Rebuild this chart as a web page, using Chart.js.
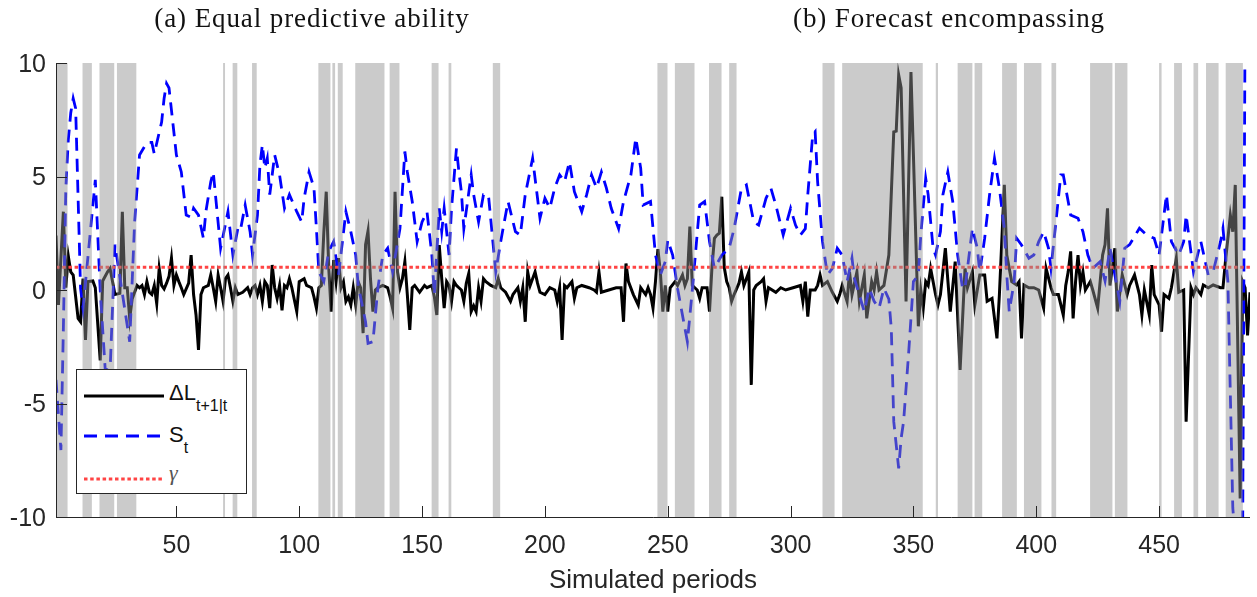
<!DOCTYPE html>
<html>
<head>
<meta charset="utf-8">
<script src="https://cdn.jsdelivr.net/npm/chart.js@4.4.1/dist/chart.umd.min.js"></script>
<style>
html,body{margin:0;padding:0;background:#fff;}
#wrap{position:relative;width:1257px;height:597px;overflow:hidden;}
#c{position:absolute;left:0;top:0;}
.ttl{position:absolute;top:5px;font-family:'Liberation Serif','DejaVu Serif',serif;font-size:27px;line-height:27px;letter-spacing:0.9px;color:#111;white-space:nowrap;transform:translateX(-50%);}
#legend{position:absolute;left:76px;top:369px;width:169px;height:123px;border:1px solid #262626;background:#fff;font-family:'Liberation Sans',Arial,sans-serif;color:#111;}
#legend svg{position:absolute;left:7px;}
#legend .lt{position:absolute;left:92px;font-size:22px;line-height:22px;white-space:nowrap;}
#legend .sb{font-size:16px;position:relative;top:11px;}
#legend .gm{font-family:'Liberation Serif','DejaVu Serif',serif;font-style:italic;color:#555;font-size:22px;}
</style>
</head>
<body>
<div id="wrap">
<canvas id="c" width="1257" height="597"></canvas>
<div class="ttl" style="left:312px">(a) Equal predictive ability</div>
<div class="ttl" style="left:949px">(b) Forecast encompassing</div>
<div id="legend">
  <svg style="top:23px" width="80" height="6"><line x1="0" y1="3" x2="80" y2="3" stroke="#000" stroke-width="3"/></svg>
  <div class="lt" style="top:12px">&Delta;L<span class="sb">t+1|t</span></div>
  <svg style="top:63px" width="80" height="6"><line x1="0" y1="3" x2="80" y2="3" stroke="#0000ff" stroke-width="3" stroke-dasharray="13 8"/></svg>
  <div class="lt" style="top:54px">S<span class="sb">t</span></div>
  <svg style="top:106px" width="80" height="6"><line x1="0" y1="3" x2="80" y2="3" stroke="#ff4444" stroke-width="3" stroke-dasharray="3.5 2.7"/></svg>
  <div class="lt gm" style="top:92px">&gamma;</div>
</div>
</div>
<script>
// ---- data ----
const dlPeriods = [1,2,4,5,6,7,8,10,11,12,13,14,16,17,19,20,22,23,25,27,28,29,30,31,32,34,35,36,37,38,39,40,41,42,43,44,45,46,47,48,49,50,51,52,53,55,56,57,58,59,60,61,63,64,65,66,67,68,69,70,71,72,73,74,75,77,79,80,81,82,83,84,85,86,87,88,89,90,91,92,93,94,95,96,97,99,100,102,103,105,106,107,108,109,110,111,112,113,114,115,116,117,118,119,120,121,122,123,124,125,126,127,128,129,130,131,132,134,136,137,138,139,140,141,142,143,144,145,146,147,149,151,152,154,155,156,157,158,159,160,161,162,163,164,165,166,167,168,169,170,171,172,173,174,175,176,178,180,181,182,184,186,187,189,190,191,192,193,194,196,197,198,200,202,204,205,206,207,208,209,211,212,213,215,218,220,221,222,223,226,229,231,232,233,234,236,238,239,241,242,243,244,245,246,247,248,249,250,251,253,254,256,257,258,259,260,261,262,263,264,266,267,268,269,270,271,272,273,274,275,276,277,279,280,281,282,283,284,285,286,288,289,290,291,294,296,298,301,304,305,306,307,308,310,311,312,313,315,317,319,320,321,323,324,325,327,328,330,331,333,334,335,336,338,340,342,343,344,345,347,349,350,352,353,354,355,356,357,359,360,361,363,365,367,369,371,372,374,375,377,379,380,382,384,385,387,388,390,392,393,394,395,397,399,401,403,404,406,407,409,411,412,413,414,415,416,417,418,419,420,422,423,425,427,428,429,430,432,433,435,437,438,440,442,443,444,446,447,448,450,451,452,454,455,457,458,460,461,463,464,465,467,468,470,472,475,476,477,479,480,481,483,484,485,486,487];
const dlValues = [2.4,-0.66,3.45,0.1,1.5,0.8,0.66,-1.25,-1.4,0.5,-2.2,0.37,0.4,0.1,-3.1,0.4,0.8,0.95,-0.2,-0.15,3.45,0.1,0.1,-1.25,-0.4,0.2,0.1,0.2,-0.2,0.37,-0.1,-0.2,0.2,-0.6,0.95,0.2,0.05,0.3,0.6,1.4,0.2,0.66,0.37,0.1,-0.2,0.3,1.54,-0.2,-1.1,-2.64,-0.2,0.1,0.2,0.66,0.1,-0.5,0.66,0.1,-0.5,0.5,0.66,0.1,-0.5,0.1,-0.2,-0.1,0.1,-0.2,0.1,0.2,-0.2,0.2,-0.5,0.37,0.2,-0.8,1.1,0.1,-0.37,0.2,-0.9,0.2,0.1,0.5,0.1,-0.95,0.37,0.5,0.2,0.1,-0.3,-0.8,0.1,0.2,2.5,4.33,1.0,-0.95,1.32,0.37,1.4,0.1,0.37,-0.5,-0.3,-0.66,0.1,-0.66,0.37,0.1,-1.9,2.0,2.6,0.5,-0.95,0.0,0.1,0.2,0.1,-0.3,-0.8,4.33,0.8,0.1,0.5,1.25,-0.2,-1.76,0.1,0.2,-0.1,0.2,0.1,0.2,-0.3,-1.1,1.98,0.5,-0.8,0.37,0.2,-0.5,0.37,0.2,0.1,0.0,-0.5,0.3,0.73,-0.95,-0.7,-0.95,0.1,-0.5,0.5,0.37,0.2,0.1,0.5,0.1,-0.1,-0.5,-0.2,0.1,-0.5,0.1,-1.4,0.8,0.2,0.8,0.3,-0.1,-0.2,0.1,0.0,-0.5,0.1,-2.2,0.2,0.1,0.37,-0.37,0.1,0.2,0.1,0.0,-0.1,0.8,-0.1,0.0,0.1,0.1,-1.4,1.17,0.37,-0.2,-0.66,0.1,-0.2,0.1,-0.2,-0.8,0.37,1.8,0.8,-0.95,0.2,-0.95,0.1,0.37,0.2,0.66,0.2,0.5,2.79,0.2,0.1,0.0,-0.37,0.1,0.1,-0.95,1.0,2.28,2.42,2.5,4.11,1.0,0.37,0.1,-0.5,-0.2,0.3,0.8,0.2,0.5,0.8,-4.18,0.0,0.2,0.37,0.5,-0.5,0.1,-0.1,0.1,0.0,0.1,0.2,-0.5,0.37,-1.17,0.0,0.0,0.2,0.66,0.2,0.37,-0.1,-0.5,-0.2,0.2,-0.5,0.8,-0.2,0.8,-0.5,0.66,-1.25,0.37,0.0,0.8,0.0,0.2,1.54,6.97,7.0,9.47,8.9,-0.5,9.6,5.95,-1.6,0.0,-0.8,0.37,0.2,0.95,-0.2,-0.66,-0.2,1.84,-0.95,1.25,-3.52,0.95,0.1,0.8,-0.66,0.66,0.66,-0.5,-0.37,-2.13,-0.2,4.63,1.54,0.37,0.22,0.37,-2.13,0.22,0.1,0.1,0.0,-0.8,0.95,0.1,-0.2,-0.2,-1.1,0.2,0.8,1.7,-1.25,0.37,1.54,0.2,0.8,0.0,0.37,0.0,-0.8,1.54,2.0,3.6,0.2,1.84,-0.95,0.66,-0.2,0.2,0.66,-0.2,-1.1,0.0,-1.1,1.1,-0.2,-0.66,-1.84,-0.2,-0.37,0.1,1.4,-0.1,0.0,-5.8,0.1,-0.2,0.1,-0.2,0.22,0.1,0.22,0.1,0.1,1.25,3.3,2.57,4.63,-9.18,0.37,0.1,-2.0,-0.1];

const stPeriods = [1,3,4,5,6,7,8,9,11,12,17,19,21,23,25,31,33,35,38,40,41,44,45,46,47,50,52,54,56,57,59,61,62,64,65,68,71,73,75,76,78,80,81,83,84,85,86,87,88,90,92,94,96,99,101,102,104,106,107,108,110,112,114,116,119,121,123,124,127,128,130,132,134,136,138,141,143,144,146,148,150,152,154,155,157,158,159,161,162,164,165,166,167,170,171,173,175,177,180,182,185,188,190,192,195,197,198,200,202,204,206,208,210,212,215,217,219,221,223,225,227,230,232,235,237,239,240,243,245,247,249,250,252,254,258,260,263,265,267,269,272,275,277,280,282,285,287,290,292,294,297,300,302,304,306,307,309,310,311,313,315,317,319,321,323,325,326,330,332,334,336,338,340,341,342,344,345,346,348,350,352,353,355,356,358,359,361,362,364,366,368,370,371,374,376,377,379,381,383,385,387,388,389,391,392,394,397,399,401,403,405,406,408,410,411,414,417,419,421,423,426,428,430,434,436,438,442,445,448,450,453,455,458,460,461,464,467,470,472,475,476,478,480,481,484,485];
const stValues = [-3.96,-7.05,-1.7,4.5,6.6,7.8,8.44,8.0,0.07,-0.8,4.85,0.0,-3.45,-3.6,2.0,-2.28,3.0,5.95,6.5,6.5,6.0,7.4,8.44,9.1,8.9,5.95,5.2,3.3,3.2,3.6,3.3,2.28,3.45,4.77,5.2,1.84,3.45,1.54,2.7,2.6,3.74,2.57,1.54,3.3,5.5,6.4,5.36,5.8,4.2,5.95,5.07,3.6,4.2,3.45,3.0,4.04,5.2,4.5,2.7,0.8,0.37,1.7,2.13,0.66,3.45,2.57,1.54,0.22,-1.4,-2.35,-2.28,0.07,1.54,1.84,0.8,2.7,6.1,5.2,3.9,2.13,3.0,3.45,1.54,-0.2,3.6,2.57,3.6,1.54,3.6,6.24,5.2,4.33,2.7,5.07,4.2,3.0,4.2,4.2,0.8,2.13,3.9,2.57,2.42,4.2,5.8,4.04,3.16,4.04,3.6,4.5,5.07,4.77,5.65,4.33,3.45,4.2,5.07,4.5,5.2,4.5,3.6,2.7,3.9,5.07,6.7,5.36,3.74,3.9,1.54,0.66,1.25,2.2,1.54,0.07,-2.28,0.0,3.74,3.9,2.13,0.95,1.54,1.84,2.7,4.48,4.63,3.0,2.86,4.04,4.48,3.74,2.42,3.6,2.86,2.42,2.7,4.2,6.83,6.97,4.77,2.13,0.66,0.95,1.84,1.54,0.37,1.4,0.5,-0.95,0.07,-0.5,-0.8,0.07,-0.4,-1.7,-5.8,-7.86,-6.53,-5.8,-2.86,0.37,0.66,2.42,4.92,4.2,1.84,1.54,2.57,4.2,5.2,3.9,1.54,0.07,0.07,2.72,1.84,0.8,2.28,4.2,5.8,4.48,2.72,0.66,-0.95,0.37,2.28,1.98,1.4,1.54,2.13,2.57,1.84,0.95,3.0,5.07,5.07,3.3,3.16,2.57,1.54,0.95,1.25,0.4,1.84,-0.5,1.84,2.0,2.72,2.42,2.28,1.54,4.2,2.13,1.54,2.13,3.3,0.8,2.13,0.66,0.8,2.13,2.72,0.37,-9.6,-11,-11,12];

const gammaPeriods = [1, 487];
const gammaValues = [1, 1];

const bandStarts = [1,11.8,18.7,25.8,69.0,72.9,80.8,107.8,113.5,115.7,122.8,136.8,153.9,160.8,178.8,245.8,252.9,266.8,275.0,313.0,321.0,359.1,368.0,374.9,386.1,395.0,406.2,421.9,432.0,450.0,456.1,464.0,469.1,477.1];
const bandEnds   = [5.7,15.6,24.7,33.7,69.8,74.8,82.7,112.7,114.6,117.7,134.7,140.8,156.7,161.9,181.8,249.9,260.9,271.9,278.0,317.9,353.8,360.0,374.0,378.0,392.1,402.1,408.1,431.0,437.1,451.0,459.3,465.9,474.2,484.1];

const xTicks = [50,100,150,200,250,300,350,400,450];
const yTicks = [-10,-5,0,5,10];
const xMin = 1, xMax = 487, yMin = -10, yMax = 10;
const xTitle = 'Simulated periods';

const toXY = (xs, ys) => xs.map((p, i) => ({x: p, y: ys[i]}));

const overlayPlugin = {
  id: 'overlay',
  afterDatasetsDraw(chart) {
    const {ctx, chartArea: a, scales} = chart;
    const sx = scales.x, sy = scales.y;
    ctx.save();
    ctx.beginPath();
    ctx.rect(a.left, a.top, a.right - a.left, a.bottom - a.top);
    ctx.clip();
    ctx.fillStyle = 'rgba(145,145,145,0.47)';
    for (let i = 0; i < bandStarts.length; i++) {
      const x0 = sx.getPixelForValue(bandStarts[i]);
      const x1 = sx.getPixelForValue(bandEnds[i]);
      ctx.fillRect(x0, a.top, x1 - x0, a.bottom - a.top);
    }
    ctx.restore();
    ctx.save();
    ctx.strokeStyle = '#262626';
    ctx.lineWidth = 1;
    ctx.beginPath();
    ctx.moveTo(Math.round(a.left) + 0.5, a.top);
    ctx.lineTo(Math.round(a.left) + 0.5, Math.round(a.bottom) + 0.5);
    ctx.lineTo(a.right, Math.round(a.bottom) + 0.5);
    xTicks.forEach(v => {
      const px = Math.round(sx.getPixelForValue(v)) + 0.5;
      ctx.moveTo(px, a.bottom);
      ctx.lineTo(px, a.bottom - 11);
    });
    yTicks.forEach(v => {
      const py = Math.round(sy.getPixelForValue(v)) + 0.5;
      ctx.moveTo(a.left, py);
      ctx.lineTo(a.left + 11, py);
    });
    ctx.stroke();
    ctx.restore();
  }
};

new Chart(document.getElementById('c'), {
  type: 'line',
  data: {
    datasets: [
      {label: 'gamma', data: toXY(gammaPeriods, gammaValues), borderColor: '#ff4444', borderWidth: 3, borderDash: [3.5, 2.7], pointRadius: 0, order: 0},
      {label: 'S_t', data: toXY(stPeriods, stValues), borderColor: '#0000ff', borderWidth: 2.8, borderDash: [13, 8], pointRadius: 0, order: 1},
      {label: 'dL', data: toXY(dlPeriods, dlValues), borderColor: '#000000', borderWidth: 3, pointRadius: 0, order: 2}
    ]
  },
  options: {
    responsive: false,
    animation: false,
    devicePixelRatio: 1,
    layout: {padding: {top: 63, right: 7, left: 0, bottom: 0}},
    elements: {line: {tension: 0, borderJoinStyle: 'miter', borderCapStyle: 'butt'}},
    plugins: {legend: {display: false}, tooltip: {enabled: false}},
    scales: {
      x: {
        type: 'linear', min: xMin, max: xMax,
        grid: {display: false, drawTicks: false},
        border: {display: false},
        afterBuildTicks: s => { s.ticks = xTicks.map(v => ({value: v})); },
        afterFit: s => { s.height = 80; },
        ticks: {padding: 14, color: '#262626', font: {family: "'Liberation Sans', Arial, sans-serif", size: 25}, maxRotation: 0, autoSkip: false},
        title: {display: true, text: xTitle, color: '#262626', font: {family: "'Liberation Sans', Arial, sans-serif", size: 26}, padding: {top: 0, bottom: 1}}
      },
      y: {
        type: 'linear', min: yMin, max: yMax,
        grid: {display: false, drawTicks: false},
        border: {display: false},
        afterBuildTicks: s => { s.ticks = yTicks.map(v => ({value: v})); },
        afterFit: s => { s.width = 56; },
        ticks: {padding: 10, labelOffset: 2, color: '#262626', font: {family: "'Liberation Sans', Arial, sans-serif", size: 25}}
      }
    }
  },
  plugins: [overlayPlugin]
});
</script>
</body>
</html>
